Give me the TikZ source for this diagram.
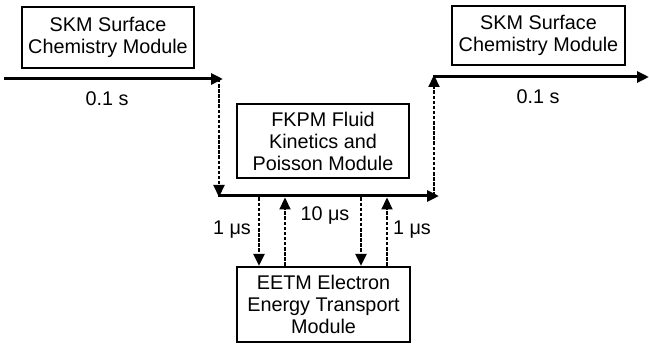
\documentclass[tikz,border=0pt]{standalone}
\usepackage{fontspec}
\setmainfont{Liberation Sans}
\usetikzlibrary{arrows.meta}
\begin{document}
\begin{tikzpicture}[x=1pt,y=-1pt,
  box/.style={draw,line width=2.2pt,align=center,inner sep=0pt,
    font=\fontsize{19.8}{22}\selectfont},
  lbl/.style={font=\fontsize{19.8}{22}\selectfont,inner sep=0pt},
  tip/.style={-{Triangle[length=12pt,width=11pt]}},
  solidarrow/.style={tip,line width=3pt},
  dasharrow/.style={tip,line width=2.2pt,dash pattern=on 3.5pt off 1.6pt}]
\useasboundingbox (0,0) rectangle (649,344);
% boxes
\node[box,minimum width=172pt,minimum height=61pt] (skmL) at (108,37.5) {SKM Surface\\Chemistry Module};
\node[box,minimum width=173pt,minimum height=59pt] (skmR) at (538.5,35.5) {SKM Surface\\Chemistry Module};
\node[box,minimum width=172pt,minimum height=74pt] (fkpm) at (323,141) {FKPM Fluid\\Kinetics and\\Poisson Module};
\node[box,minimum width=173pt,minimum height=75pt] (eetm) at (323.5,304.5) {EETM Electron\\Energy Transport\\Module};
% timeline coordinates
\coordinate (l0) at (4,79);
\coordinate (l1) at (223,79);
\coordinate (d0) at (219,79);
\coordinate (d1) at (219,197);
\coordinate (m0) at (217.5,196);
\coordinate (m1) at (439,196);
\coordinate (u0) at (434,196);
\coordinate (u1) at (434,75);
\coordinate (r0) at (432.5,77);
\coordinate (r1) at (649,77);
\draw[solidarrow] (l0) -- (l1);
\draw[dasharrow] (d0) -- (d1);
\draw[solidarrow] (m0) -- (m1);
\draw[dasharrow] (u0) -- (u1);
\draw[solidarrow] (r0) -- (r1);
% exchanges with EETM
\coordinate (a0) at (259,197.5);
\coordinate (b1) at (285,197.5);
\coordinate (c0) at (361,197.5);
\coordinate (e1) at (387,197.5);
\draw[dasharrow] (a0) -- (a0 |- eetm.north);
\draw[dasharrow] (b1 |- eetm.north) -- (b1);
\draw[dasharrow] (c0) -- (c0 |- eetm.north);
\draw[dasharrow] (e1 |- eetm.north) -- (e1);
% labels
\node[lbl] (t1) at (107,99) {0.1 s};
\node[lbl] (t2) at (538,97) {0.1 s};
\node[lbl] (t3) at (232,230) {1 μs};
\node[lbl] (t4) at (325,215) {10 μs};
\node[lbl] (t5) at (412,230) {1 μs};
\end{tikzpicture}
\end{document}
